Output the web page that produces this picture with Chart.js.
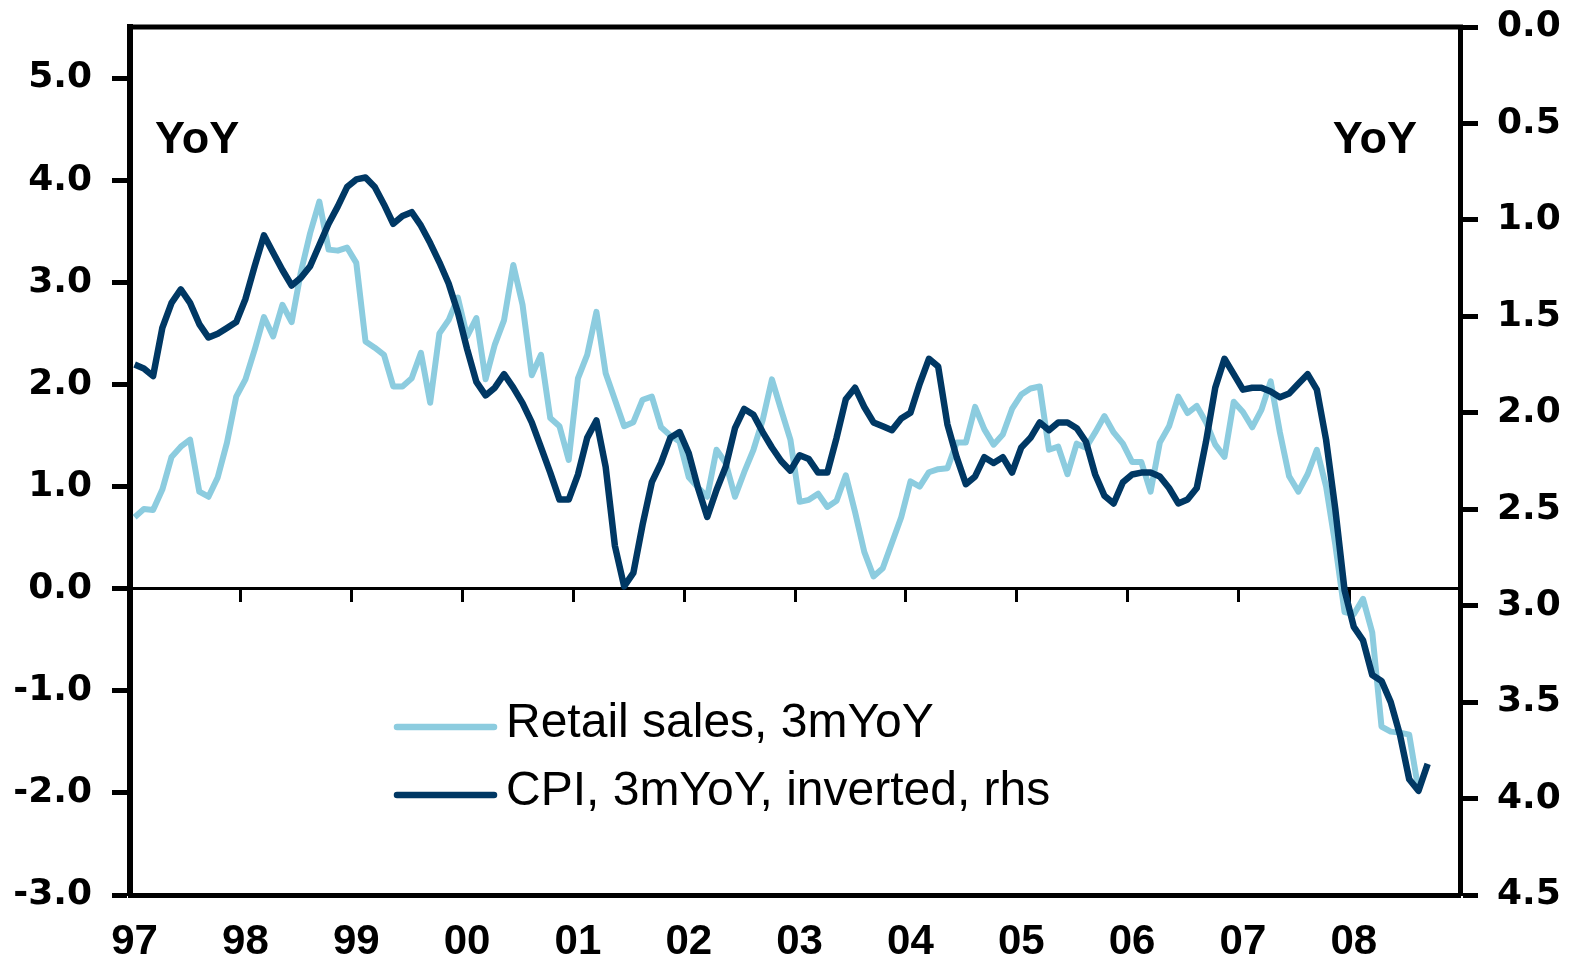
<!DOCTYPE html>
<html>
<head>
<meta charset="utf-8">
<script src="https://cdn.jsdelivr.net/npm/chart.js@4.4.1/dist/chart.umd.min.js"></script>
<style>
  html, body { margin: 0; padding: 0; background: #ffffff; }
  #wrap { width: 1572px; height: 962px; }
</style>
</head>
<body>
<div id="wrap"><canvas id="c" width="1572" height="962"></canvas></div>
<script>
// ---------------- data ----------------
const years = ['97','98','99','00','01','02','03','04','05','06','07','08'];
const months = ['Jan','Feb','Mar','Apr','May','Jun','Jul','Aug','Sep','Oct','Nov','Dec'];

// Retail sales, 3m YoY (%), monthly Jan 97 - Aug 08 (left axis)
const retailSales = [
  0.70, 0.78, 0.77, 0.97, 1.29, 1.39, 1.46, 0.95, 0.90, 1.09,
  1.43, 1.88, 2.05, 2.34, 2.66, 2.47, 2.78, 2.61, 3.10, 3.48,
  3.79, 3.32, 3.31, 3.34, 3.19, 2.42, 2.36, 2.29, 1.98, 1.98,
  2.06, 2.31, 1.82, 2.50, 2.63, 2.85, 2.47, 2.65, 2.05, 2.39,
  2.63, 3.17, 2.78, 2.09, 2.29, 1.67, 1.59, 1.26, 2.06, 2.29,
  2.71, 2.11, 1.85, 1.59, 1.63, 1.85, 1.88, 1.58, 1.50, 1.44,
  1.09, 0.99, 0.90, 1.36, 1.23, 0.90, 1.14, 1.36, 1.65, 2.05,
  1.75, 1.46, 0.85, 0.87, 0.93, 0.80, 0.86, 1.11, 0.75, 0.36,
  0.12, 0.20, 0.45, 0.70, 1.05, 1.00, 1.14, 1.17, 1.18, 1.43,
  1.43, 1.78, 1.56, 1.41, 1.51, 1.76, 1.90, 1.96, 1.98, 1.36,
  1.39, 1.12, 1.42, 1.38, 1.53, 1.69, 1.53, 1.42, 1.24, 1.24,
  0.95, 1.43, 1.59, 1.88, 1.72, 1.79, 1.63, 1.41, 1.29, 1.83,
  1.73, 1.58, 1.75, 2.03, 1.53, 1.10, 0.95, 1.12, 1.36, 1.00,
  0.43, -0.23, -0.25, -0.10, -0.43, -1.35, -1.40, -1.41, -1.43, -1.97
];

// CPI, 3m YoY (%), monthly Jan 97 - Sep 08 (right axis, inverted)
const cpiYoY = [
  1.75, 1.77, 1.81, 1.56, 1.43, 1.36, 1.43, 1.54, 1.61, 1.59,
  1.56, 1.53, 1.41, 1.24, 1.08, 1.17, 1.26, 1.34, 1.30, 1.24,
  1.13, 1.02, 0.93, 0.83, 0.79, 0.78, 0.83, 0.92, 1.02, 0.98,
  0.96, 1.03, 1.12, 1.22, 1.33, 1.48, 1.67, 1.84, 1.91, 1.87,
  1.80, 1.87, 1.95, 2.05, 2.18, 2.31, 2.45, 2.45, 2.32, 2.13,
  2.04, 2.28, 2.69, 2.90, 2.83, 2.58, 2.36, 2.26, 2.13, 2.10,
  2.21, 2.39, 2.54, 2.40, 2.28, 2.08, 1.98, 2.01, 2.10, 2.18,
  2.25, 2.30, 2.22, 2.24, 2.31, 2.31, 2.13, 1.93, 1.87, 1.97,
  2.05, 2.07, 2.09, 2.03, 2.00, 1.85, 1.72, 1.76, 2.06, 2.23,
  2.37, 2.33, 2.23, 2.26, 2.23, 2.31, 2.18, 2.13, 2.05, 2.09,
  2.05, 2.05, 2.08, 2.15, 2.32, 2.43, 2.47, 2.36, 2.32, 2.31,
  2.31, 2.33, 2.39, 2.47, 2.45, 2.39, 2.15, 1.87, 1.72, 1.80,
  1.88, 1.87, 1.87, 1.89, 1.92, 1.90, 1.85, 1.80, 1.88, 2.14,
  2.50, 2.92, 3.11, 3.18, 3.36, 3.39, 3.50, 3.67, 3.90, 3.96,
  3.82
];

const seriesNames = ['Retail sales, 3mYoY', 'CPI, 3mYoY, inverted, rhs'];
const seriesColors = ['#8CCCDF', '#003864'];
const leftTickValues = [-3, -2, -1, 0, 1, 2, 3, 4, 5];
const rightTickValues = [0, 0.5, 1, 1.5, 2, 2.5, 3, 3.5, 4, 4.5];
const yearTickPositions = [12, 24, 36, 48, 60, 72, 84, 96, 108, 120, 132];
const annotationText = 'YoY';

const monthLabels = years.flatMap(y => months.map(m => m + ' ' + y));

// ---------------- styling ----------------
const TICK_FONT = { family: '"DejaVu Sans"', size: 36, weight: 'bold' };
const X_FONT = { family: '"Liberation Sans", Arial', size: 42, weight: 'bold' };

const noOverflow = s => { s.paddingTop = 0; s.paddingBottom = 0; };

const decorations = {
  id: 'decorations',
  afterDatasetsDraw(chart) {
    const { ctx, chartArea: a } = chart;
    ctx.save();
    ctx.strokeStyle = '#000';
    ctx.lineWidth = 5;
    ctx.beginPath();
    ctx.moveTo(a.left - 3, a.top);
    ctx.lineTo(a.right + 3, a.top);
    ctx.stroke();
    ctx.restore();
  },
  afterDraw(chart) {
    const { ctx, chartArea: a } = chart;
    ctx.save();
    // YoY labels
    ctx.fillStyle = '#000';
    ctx.font = 'bold 45px "Liberation Sans", Arial';
    ctx.textBaseline = 'alphabetic';
    ctx.textAlign = 'left';
    ctx.fillText(annotationText, a.left + 25, 153);
    ctx.textAlign = 'right';
    ctx.fillText(annotationText, a.right - 43, 153);

    // legend
    const ds = chart.data.datasets;
    const rows = [727, 795];
    ctx.font = '48px "Liberation Sans", Arial';
    ctx.textAlign = 'left';
    ctx.textBaseline = 'middle';
    ds.forEach((d, i) => {
      const y = rows[i];
      ctx.strokeStyle = d.borderColor;
      ctx.lineWidth = 6.5;
      ctx.lineCap = 'round';
      ctx.beginPath();
      ctx.moveTo(397, y);
      ctx.lineTo(494, y);
      ctx.stroke();
      ctx.fillStyle = '#000';
      ctx.fillText(d.label, 506, y - 3);
    });
    ctx.restore();
  }
};

new Chart(document.getElementById('c'), {
  type: 'line',
  data: {
    labels: monthLabels,
    datasets: [
      {
        label: seriesNames[0],
        data: retailSales,
        borderColor: seriesColors[0],
        backgroundColor: seriesColors[0],
        borderWidth: 6,
        pointRadius: 0,
        tension: 0,
        borderJoinStyle: 'round',
        xAxisID: 'x',
        yAxisID: 'y',
        order: 1
      },
      {
        label: seriesNames[1],
        data: cpiYoY,
        borderColor: seriesColors[1],
        backgroundColor: seriesColors[1],
        borderWidth: 6.5,
        pointRadius: 0,
        tension: 0,
        borderJoinStyle: 'round',
        xAxisID: 'x',
        yAxisID: 'y2',
        order: 0
      }
    ]
  },
  options: {
    responsive: false,
    animation: false,
    devicePixelRatio: 1,
    layout: { padding: { top: 27, left: 0, right: 0, bottom: 0 } },
    plugins: { legend: { display: false }, tooltip: { enabled: false } },
    scales: {
      x: {
        type: 'category',
        position: 'bottom',
        offset: true,
        grid: { display: false, drawTicks: false },
        border: { display: true, color: '#000', width: 5 },
        ticks: {
          autoSkip: false,
          maxRotation: 0,
          minRotation: 0,
          padding: 22,
          color: '#000',
          font: X_FONT,
          callback: (v, i) => (i % 12 === 0 ? years[i / 12] : null)
        },
        afterFit: s => { s.height = 67; s.paddingLeft = 0; s.paddingRight = 0; }
      },
      x0: {
        type: 'linear',
        position: { y: 0 },
        min: 0,
        max: 144,
        afterBuildTicks: s => { s.ticks = yearTickPositions.map(v => ({ value: v })); },
        ticks: { display: false },
        grid: { drawOnChartArea: false, drawTicks: true, tickLength: 12, tickWidth: 3, tickColor: '#000' },
        border: { display: true, color: '#000', width: 3 }
      },
      y: {
        type: 'linear',
        position: 'left',
        min: -3,
        max: 5.5,
        afterBuildTicks: s => { s.ticks = leftTickValues.map(v => ({ value: v })); },
        ticks: {
          color: '#000',
          font: TICK_FONT,
          padding: 20,
          callback: v => v.toFixed(1)
        },
        grid: { drawOnChartArea: false, drawTicks: true, tickLength: 18, tickWidth: 5, tickColor: '#000' },
        border: { display: true, color: '#000', width: 6 },
        afterFit: s => { s.width = 130; noOverflow(s); }
      },
      y2: {
        type: 'linear',
        position: 'right',
        reverse: true,
        min: 0,
        max: 4.5,
        afterBuildTicks: s => { s.ticks = rightTickValues.map(v => ({ value: v })); },
        ticks: {
          color: '#000',
          font: TICK_FONT,
          padding: 19,
          callback: v => v.toFixed(1)
        },
        grid: { drawOnChartArea: false, drawTicks: true, tickLength: 18, tickWidth: 5, tickColor: '#000' },
        border: { display: true, color: '#000', width: 5 },
        afterFit: s => { s.width = 112; noOverflow(s); }
      }
    }
  },
  plugins: [decorations]
});
</script>
</body>
</html>
